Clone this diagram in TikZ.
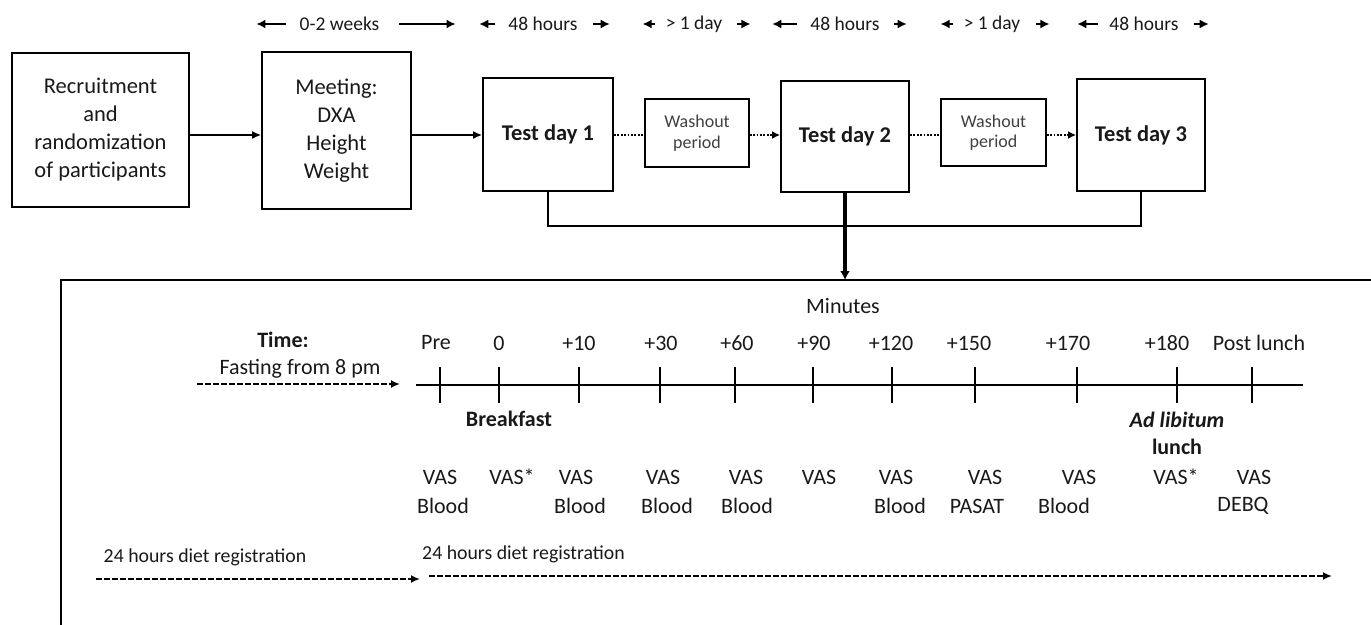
\documentclass[tikz,border=0pt]{standalone}
\usepackage{fontspec}
\setmainfont{Carlito}
\usetikzlibrary{arrows.meta,calc}
\begin{document}
\begin{tikzpicture}[x=1pt,y=-1pt,
  box/.style={draw, line width=1.8pt, align=center, inner sep=0pt, text=black!90,
    font=\fontsize{22.5}{28}\selectfont},
  tbox/.style={box, font=\fontsize{22.5}{28}\selectfont\bfseries},
  wbox/.style={draw, line width=1.6pt, align=center, inner sep=0pt, text=black!75,
    font=\fontsize{18}{20.5}\selectfont},
  toplab/.style={inner sep=0pt, text=black!90, font=\fontsize{19.5}{22}\selectfont},
  lab/.style={inner sep=0pt, text=black!90, font=\fontsize{22}{27}\selectfont},
  blab/.style={lab, font=\fontsize{22}{27}\selectfont\bfseries},
  tarr/.style={line width=1.6pt, -{Latex[length=9pt,width=9pt]}},
  conn/.style={line width=1.6pt},
  carr/.style={line width=1.6pt, -{Latex[length=9pt,width=8pt]}},
  dotc/.style={line width=1.6pt, dash pattern=on 1.8pt off 1.6pt},
  dota/.style={dotc, -{Latex[length=8pt,width=8pt]}},
  dashl/.style={line width=1.9pt, dash pattern=on 5.5pt off 2.5pt},
  dasha/.style={dashl, -{Latex[length=9pt,width=8pt]}},
  tline/.style={line width=1.6pt},
]
\useasboundingbox (0,0) rectangle (1371,624);

% top row boxes
\node[box, minimum width=177pt, minimum height=154pt] (rec) at (100.5,130)
  {Recruitment\\and\\randomization\\of participants};
\node[box, minimum width=149pt, minimum height=157pt] (mtg) at (336.5,130.5)
  {Meeting:\\DXA\\Height\\Weight};
\node[tbox, minimum width=130pt, minimum height=113pt] (td1) at (548,134.5) {Test day 1};
\node[wbox, minimum width=104pt, minimum height=68pt] (w1) at (697,133) {Washout\\period};
\node[tbox, minimum width=128pt, minimum height=111pt] (td2) at (845,136.5) {Test day 2};
\node[wbox, minimum width=105pt, minimum height=67pt] (w2) at (993.5,132.5) {Washout\\period};
\node[tbox, minimum width=128pt, minimum height=112pt] (td3) at (1141,135) {Test day 3};

\coordinate (lev) at (0,135);
\draw[carr] (rec.east |- lev) -- (mtg.west |- lev);
\draw[carr] (mtg.east |- lev) -- (td1.west |- lev);
\draw[dotc] (td1.east |- lev) -- (w1.west |- lev);
\draw[dota] (w1.east |- lev) -- (td2.west |- lev);
\draw[dotc] (td2.east |- lev) -- (w2.west |- lev);
\draw[dota] (w2.east |- lev) -- (td3.west |- lev);

% collector
\coordinate (jy) at (0,226);
\coordinate (boxtop) at (845,280);
\draw[conn] (td1.south) -- (td1.south |- jy) -- (td3.south |- jy) -- (td3.south);
\draw[line width=3.2pt, -{Latex[length=9pt,width=10pt]}] (td2.south) -- (boxtop);

% top labels
\node[toplab] (w02) at (339.5,24) {0-2 weeks};
\node[toplab] (h1) at (543,24) {48 hours};
\node[toplab] (d1) at (694,24) {> 1 day};
\node[toplab] (h2) at (845,24) {48 hours};
\node[toplab] (d2) at (992,24) {> 1 day};
\node[toplab] (h3) at (1144,24) {48 hours};
\draw[tarr] ($(w02.west)+(-13,0)$) -- ($(w02.west)+(-43,0)$);
\draw[tarr] ($(w02.east)+(19,0)$) -- ($(w02.east)+(76,0)$);
\draw[tarr] ($(h1.west)+(-13,0)$) -- ($(h1.west)+(-29,0)$);
\draw[tarr] ($(h1.east)+(15,0)$) -- ($(h1.east)+(32,0)$);
\draw[tarr] ($(d1.west)+(-11,0)$) -- ($(d1.west)+(-23,0)$);
\draw[tarr] ($(d1.east)+(15,0)$) -- ($(d1.east)+(28,0)$);
\draw[tarr] ($(h2.west)+(-13,0)$) -- ($(h2.west)+(-38,0)$);
\draw[tarr] ($(h2.east)+(14,0)$) -- ($(h2.east)+(27,0)$);
\draw[tarr] ($(d2.west)+(-11,0)$) -- ($(d2.west)+(-23,0)$);
\draw[tarr] ($(d2.east)+(16,0)$) -- ($(d2.east)+(29,0)$);
\draw[tarr] ($(h3.west)+(-11,0)$) -- ($(h3.west)+(-32,0)$);
\draw[tarr] ($(h3.east)+(15,0)$) -- ($(h3.east)+(30,0)$);

% big box
\draw[line width=2pt] (1375,280) -- (61,280) -- (61,630);

% timeline
\node[lab] (minutes) at (843,306) {Minutes};
\node[blab] (time) at (283,340) {Time:};
\node[lab] (fast) at (300,369) {Fasting from 8 pm};
\coordinate (tlA) at (416,385);
\coordinate (tlB) at (1303,385);
\draw[tline] (tlA) -- (tlB);
\coordinate (fA) at (197,384);
\draw[dasha] (fA) -- (400,384) coordinate (fB);

\foreach \x/\lx/\t in {440/436/Pre, 499/499/0, 579/579/+10, 660/661/+30, 735/737/+60,
  813/814/+90, 892/891/+120, 975/969/+150, 1077/1068/+170, 1177/1167/+180, 1252/1259/Post lunch}{
  \draw[tline] (\x,367) -- (\x,403);
  \node[lab] at (\lx,343) {\t};
}

\node[blab] (bf) at (509,419) {Breakfast};
\node[blab] (adl) at (1177,420) {\textit{Ad libitum}};
\node[blab] (lunch) at (1177,447) {lunch};

% VAS row
\foreach \x/\t in {440/VAS, 512/VAS*, 576/VAS, 663/VAS, 746/VAS, 819/VAS, 896/VAS,
  985/VAS, 1079/VAS, 1176/VAS*, 1254/VAS}{
  \node[lab] at (\x,477) {\t};
}
\foreach \x/\t in {443/Blood, 580/Blood, 667/Blood, 747/Blood, 900/Blood, 977/PASAT,
  1064/Blood, 1243/DEBQ}{
  \node[lab] at (\x,506) {\t};
}

% diet registration
\node[lab, font=\fontsize{19.8}{22}\selectfont] (dr1) at (205,557) {24 hours diet registration};
\node[lab, font=\fontsize{19.8}{22}\selectfont] (dr2) at (523.5,554) {24 hours diet registration};
\coordinate (dA) at (96,579);
\coordinate (dB) at (420,579);
\coordinate (dC) at (429,576);
\coordinate (dD) at (1332,576);
\draw[dasha] (dA) -- (dB);
\draw[dasha] (dC) -- (dD);
\end{tikzpicture}
\end{document}
